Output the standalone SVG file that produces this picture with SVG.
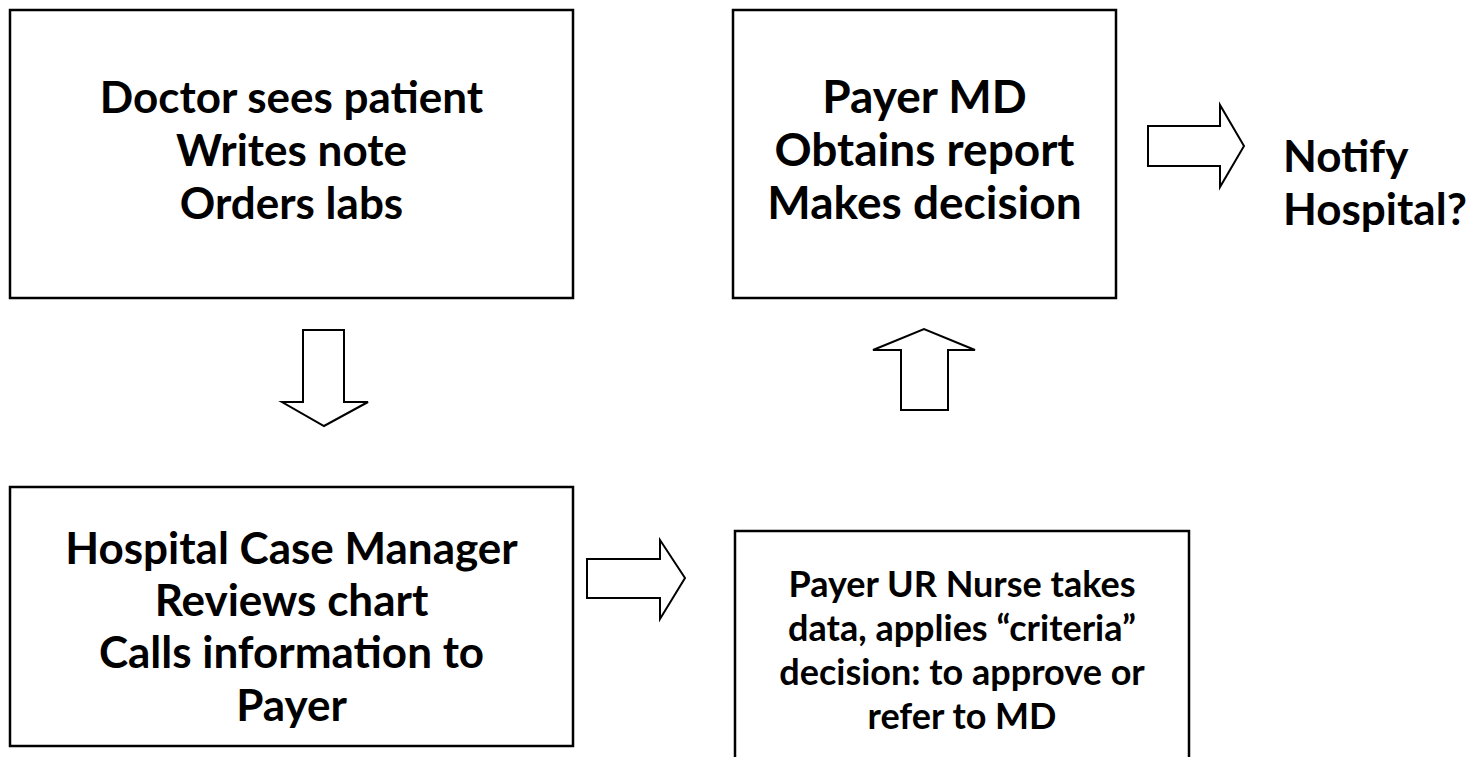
<svg xmlns="http://www.w3.org/2000/svg" width="1470" height="757" viewBox="0 0 1470 757">
<style>
  .box { fill: #ffffff; stroke: #000000; stroke-width: 2.5; }
  .arr { fill: #ffffff; stroke: #000000; stroke-width: 2; stroke-linejoin: miter; }
  .t { font-family: Lato, "Liberation Sans", sans-serif; font-weight: bold; font-size: 44px; fill: #000000; text-anchor: middle; }
  .tm { font-family: Lato, "Liberation Sans", sans-serif; font-weight: bold; font-size: 46px; fill: #000000; text-anchor: middle; }
  .ts { font-family: Lato, "Liberation Sans", sans-serif; font-weight: bold; font-size: 36px; fill: #000000; text-anchor: middle; }
  .tl { font-family: Lato, "Liberation Sans", sans-serif; font-weight: bold; font-size: 44px; fill: #000000; text-anchor: start; }
</style>
<rect width="1470" height="757" fill="#ffffff"/>
<g id="node-doctor">
  <rect class="box" x="10" y="10" width="563" height="288"/>
  <text class="t" x="291.5" y="113">Doctor sees patient</text>
  <text class="t" x="291.5" y="166">Writes note</text>
  <text class="t" x="291.5" y="219">Orders labs</text>
</g>
<g id="node-payer-md">
  <rect class="box" x="733" y="10" width="383" height="288"/>
  <text class="tm" x="924.5" y="113">Payer MD</text>
  <text class="tm" x="924.5" y="166">Obtains report</text>
  <text class="tm" x="924.5" y="219">Makes decision</text>
</g>
<g id="node-case-manager">
  <rect class="box" x="10" y="487" width="563" height="259"/>
  <text class="t" x="291.5" y="564">Hospital Case Manager</text>
  <text class="t" x="291.5" y="616">Reviews chart</text>
  <text class="t" x="291.5" y="668">Calls information to</text>
  <text class="t" x="291.5" y="721">Payer</text>
</g>
<g id="node-ur-nurse">
  <rect class="box" x="735" y="531" width="454" height="240"/>
  <text class="ts" x="962" y="597">Payer UR Nurse takes</text>
  <text class="ts" x="962" y="641">data, applies “criteria”</text>
  <text class="ts" x="962" y="685">decision: to approve or</text>
  <text class="ts" x="962" y="729">refer to MD</text>
</g>
<g id="node-notify">
  <text class="tl" x="1283" y="172">Notify</text>
  <text class="tl" x="1283" y="225">Hospital?</text>
</g>
<g id="connectors">
  <polygon class="arr" points="303,330 344,330 344,402 368,402 324,426 282,402 303,402"/>
  <polygon class="arr" points="587,559 660,559 660,540 685,578 660,619 660,598 587,598"/>
  <polygon class="arr" points="901,410 948,410 948,350 975,350 924,329 873,350 901,350"/>
  <polygon class="arr" points="1148,126 1220,126 1220,105 1244,146 1220,187 1220,166 1148,166"/>
</g>
</svg>
